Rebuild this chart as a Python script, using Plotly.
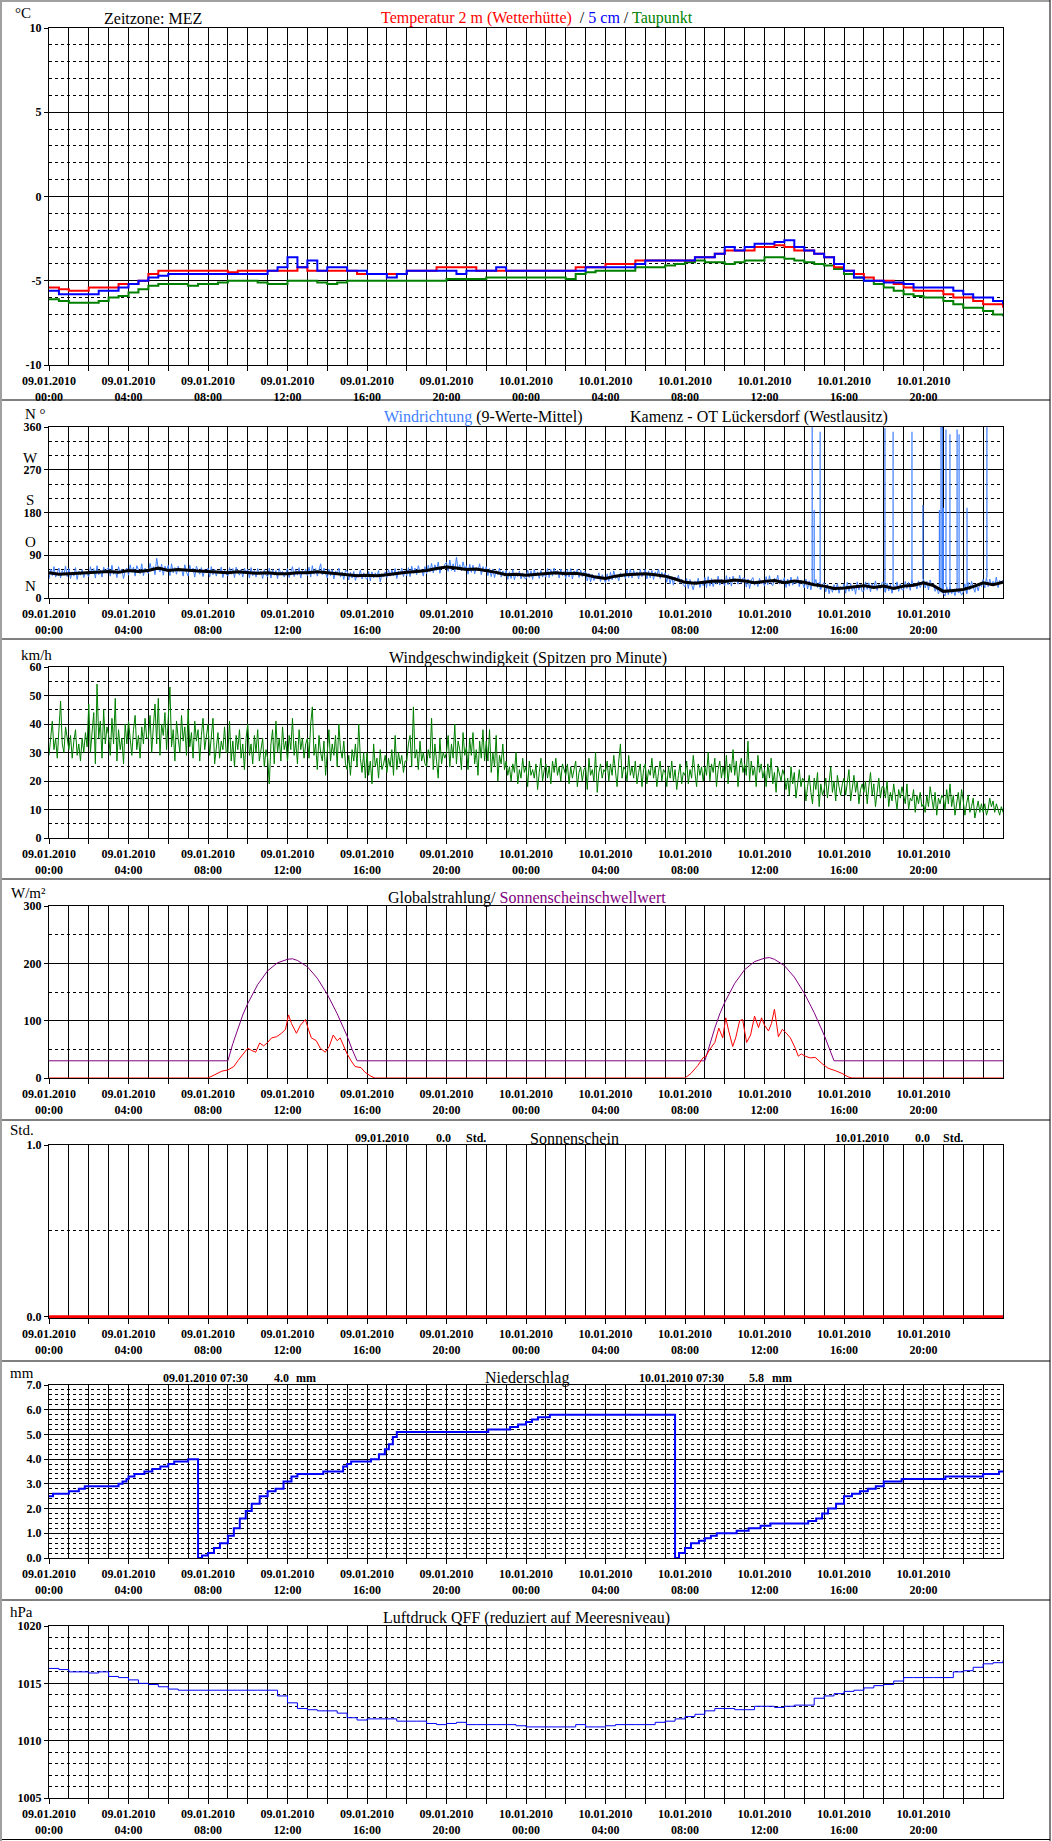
import plotly.graph_objects as go

W, H = 1052, 1841

# ---------------- DATA ----------------
tick_dates = ["09.01.2010"] * 6 + ["10.01.2010"] * 6
tick_times = ["00:00", "04:00", "08:00", "12:00", "16:00", "20:00"] * 2

# half-hourly temperatures, hours 0..48
temp_2m = [
    -5.4, -5.5, -5.6, -5.6, -5.4, -5.4, -5.4, -5.2,
    -5.2, -5.0, -4.6, -4.4, -4.4, -4.4, -4.4, -4.4,
    -4.4, -4.4, -4.5, -4.4, -4.4, -4.4, -4.4, -4.4,
    -4.4, -4.2, -4.4, -4.4, -4.4, -4.4, -4.4, -4.6,
    -4.6, -4.6, -4.6, -4.6, -4.4, -4.4, -4.4, -4.2,
    -4.2, -4.2, -4.2, -4.4, -4.4, -4.4, -4.4, -4.4,
    -4.4, -4.4, -4.4, -4.4, -4.4, -4.2, -4.2, -4.2,
    -4.0, -4.0, -4.0, -3.8, -3.8, -3.8, -3.8, -3.8,
    -3.8, -3.6, -3.6, -3.4, -3.2, -3.2, -3.2, -3.0,
    -3.0, -2.9, -3.0, -3.2, -3.2, -3.4, -3.6, -4.2,
    -4.4, -4.6, -4.8, -5.0, -5.0, -5.2, -5.4, -5.6,
    -5.6, -5.6, -5.8, -6.0, -6.0, -6.2, -6.4, -6.4,
    -6.6]
temp_5cm = [
    -5.6, -5.8, -5.8, -5.8, -5.8, -5.6, -5.6, -5.4,
    -5.2, -5.0, -4.8, -4.7, -4.6, -4.6, -4.6, -4.6,
    -4.6, -4.6, -4.6, -4.6, -4.6, -4.6, -4.4, -4.2,
    -3.6, -4.2, -3.8, -4.4, -4.2, -4.2, -4.4, -4.4,
    -4.6, -4.6, -4.8, -4.6, -4.4, -4.4, -4.4, -4.4,
    -4.4, -4.6, -4.4, -4.4, -4.4, -4.2, -4.4, -4.4,
    -4.4, -4.4, -4.4, -4.4, -4.4, -4.4, -4.2, -4.2,
    -4.2, -4.2, -4.2, -4.0, -3.8, -3.8, -3.8, -3.8,
    -3.8, -3.6, -3.6, -3.4, -3.0, -3.2, -3.0, -2.8,
    -2.8, -2.7, -2.6, -3.0, -3.2, -3.4, -3.6, -4.0,
    -4.4, -4.8, -5.0, -5.0, -5.1, -5.1, -5.2, -5.4,
    -5.4, -5.4, -5.4, -5.6, -5.8, -6.0, -6.0, -6.2,
    -6.4]
dewpoint = [
    -6.1, -6.2, -6.3, -6.3, -6.3, -6.2, -6.0, -5.9,
    -5.7, -5.5, -5.3, -5.2, -5.2, -5.2, -5.3, -5.2,
    -5.2, -5.1, -5.0, -5.0, -5.0, -5.1, -5.2, -5.2,
    -5.0, -5.0, -5.0, -5.1, -5.2, -5.1, -5.0, -5.0,
    -5.0, -5.0, -5.0, -5.0, -5.0, -5.0, -5.0, -5.0,
    -4.9, -4.9, -4.9, -4.9, -4.8, -4.8, -4.8, -4.8,
    -4.8, -4.8, -4.8, -4.8, -4.9, -4.6, -4.5, -4.4,
    -4.4, -4.4, -4.4, -4.2, -4.2, -4.2, -4.1, -4.0,
    -3.9, -3.8, -3.9, -3.9, -4.0, -3.9, -3.8, -3.8,
    -3.6, -3.6, -3.7, -3.8, -3.9, -4.0, -4.1, -4.3,
    -4.6, -4.8, -5.0, -5.2, -5.4, -5.6, -5.8, -5.9,
    -6.0, -6.0, -6.2, -6.4, -6.6, -6.6, -6.8, -7.0,
    -7.1]

# wind direction, 5-minute values (one row per hour)
wind_dir_raw = [
    40, 61, 47, 66, 44, 56, 63, 42, 58, 49, 67, 45,
    62, 41, 55, 46, 64, 39, 57, 48, 60, 43, 54, 50,
    45, 66, 51, 62, 42, 68, 49, 59, 44, 65, 53, 61,
    64, 46, 69, 50, 58, 43, 66, 52, 61, 41, 57, 63,
    48, 70, 54, 65, 46, 68, 59, 51, 72, 47, 63, 55,
    52, 73, 57, 66, 49, 84, 62, 55, 71, 48, 67, 58,
    69, 47, 72, 53, 64, 50, 67, 56, 61, 46, 70, 54,
    46, 69, 55, 63, 44, 67, 58, 50, 64, 45, 60, 53,
    63, 44, 66, 49, 61, 46, 58, 52, 65, 43, 59, 50,
    46, 64, 50, 62, 43, 65, 55, 48, 60, 44, 63, 52,
    61, 42, 64, 47, 58, 44, 62, 50, 57, 41, 60, 48,
    45, 63, 42, 60, 48, 58, 41, 62, 50, 56, 44, 55,
    62, 43, 57, 66, 45, 60, 48, 64, 42, 58, 51, 61,
    47, 65, 44, 68, 50, 62, 46, 59, 72, 49, 63, 52,
    42, 61, 47, 60, 40, 57, 51, 63, 44, 55, 39, 58,
    57, 38, 54, 42, 56, 37, 51, 45, 59, 40, 53, 43,
    39, 56, 36, 55, 42, 53, 46, 58, 34, 51, 44, 55,
    43, 60, 46, 59, 47, 62, 41, 57, 50, 63, 45, 58,
    47, 64, 45, 67, 52, 63, 49, 68, 54, 61, 46, 66,
    51, 69, 55, 73, 53, 70, 58, 76, 52, 67, 62, 71,
    75, 56, 80, 58, 72, 55, 86, 60, 70, 57, 76, 61,
    68, 50, 71, 54, 69, 51, 64, 57, 72, 49, 66, 55,
    66, 47, 62, 45, 61, 43, 58, 49, 63, 44, 57, 46,
    58, 39, 55, 41, 60, 38, 52, 45, 57, 40, 53, 42,
    40, 59, 43, 57, 39, 60, 46, 55, 41, 58, 44, 52,
    44, 62, 43, 60, 46, 63, 49, 58, 42, 61, 47, 56,
    41, 60, 44, 62, 40, 57, 48, 61, 43, 59, 45, 55,
    55, 36, 52, 34, 50, 37, 47, 40, 53, 35, 49, 42,
    32, 51, 35, 54, 38, 57, 41, 48, 36, 53, 44, 50,
    41, 59, 43, 61, 42, 58, 47, 55, 40, 60, 45, 53,
    60, 40, 57, 42, 58, 39, 55, 46, 61, 41, 54, 44,
    53, 33, 49, 30, 45, 27, 44, 36, 48, 31, 40, 28,
    23, 41, 20, 39, 25, 17, 36, 28, 42, 22, 34, 26,
    43, 22, 45, 25, 41, 24, 38, 29, 46, 27, 40, 31,
    26, 47, 28, 44, 25, 46, 33, 40, 29, 48, 31, 42,
    42, 23, 40, 20, 38, 43, 27, 36, 24, 41, 30, 35,
    25, 45, 28, 47, 30, 26, 42, 33, 48, 29, 39, 34,
    43, 22, 40, 25, 44, 27, 37, 30, 45, 24, 38, 31,
    21, 40, 19, 36, 17, 34, 27, 39, 22, 33, 18, 29,
    32, 13, 29, 9, 25, 12, 28, 16, 31, 10, 24, 18,
    30, 10, 33, 14, 31, 15, 26, 8, 34, 17, 28, 13,
    15, 34, 18, 32, 13, 30, 22, 36, 16, 29, 20, 33,
    33, 12, 31, 15, 29, 10, 27, 18, 34, 14, 30, 17,
    17, 35, 20, 33, 16, 38, 24, 31, 19, 36, 22, 30,
    40, 21, 35, 17, 38, 25, 30, 14, 23, 9, 19, 12,
    10, 4, 24, 7, 25, 9, 18, 5, 21, 11, 15, 6,
    13, 30, 9, 33, 17, 35, 22, 12, 28, 15, 31, 24,
    39, 21, 43, 24, 40, 26, 35, 28, 44, 22, 37, 33,
    38]
# 9-value mean, half-hourly
wind_dir_mean = [
    53, 50, 51, 52, 54, 55, 56, 54,
    58, 56, 58, 63, 58, 60, 58, 57,
    56, 54, 53, 55, 54, 52, 53, 51,
    51, 53, 53, 55, 53, 51, 49, 47,
    48, 47, 49, 52, 54, 56, 58, 62,
    65, 63, 60, 61, 58, 54, 49, 50,
    48, 50, 51, 53, 51, 52, 49, 44,
    41, 46, 49, 50, 51, 49, 46, 40,
    33, 31, 33, 36, 35, 38, 36, 32,
    35, 37, 32, 36, 33, 28, 25, 20,
    21, 24, 26, 22, 25, 20, 25, 27,
    32, 26, 14, 16, 18, 24, 32, 28,
    33]
# direction jumps through north (hour, peak degrees)
spike_hours = [38.4, 38.5, 38.8, 42.06, 42.47, 43.42, 43.97, 44.8, 44.88, 44.95,
               45.0, 45.13, 45.33, 45.69, 45.79, 46.19, 47.19]
spike_peaks = [360, 185, 350, 358, 350, 350, 196, 185, 360, 360,
               190, 355, 345, 355, 345, 190, 360]

# wind speed peaks, 5-minute values (one row per hour)
wind_speed = [
    29, 36, 41, 31, 35, 28, 38, 48, 33, 30, 39, 34,
    31, 36, 28, 34, 38, 29, 33, 27, 35, 30, 37, 32,
    47, 30, 38, 44, 26, 54, 35, 41, 28, 45, 33, 39,
    36, 29, 42, 33, 49, 27, 38, 31, 35, 26, 40, 33,
    41, 34, 29, 38, 43, 31, 36, 28, 39, 33, 42, 35,
    35, 43, 30, 39, 47, 33, 49, 29, 40, 36, 44, 31,
    44, 53, 32, 38, 27, 41, 35, 30, 43, 34, 39, 29,
    45, 32, 37, 28, 41, 34, 38, 27, 36, 42, 31, 35,
    40, 29, 35, 42, 26, 33, 37, 28, 34, 31, 39, 30,
    30, 41, 27, 34, 25, 36, 31, 38, 28, 33, 24, 35,
    40, 29, 33, 26, 36, 30, 38, 27, 32, 35, 25, 31,
    28, 19, 33, 38, 26, 41, 30, 35, 27, 39, 31, 34,
    27, 36, 31, 42, 29, 34, 26, 38, 31, 35, 28, 33,
    35, 28, 40, 46, 29, 33, 24, 36, 30, 27, 34, 22,
    30, 38, 27, 33, 29, 36, 25, 40, 31, 28, 34, 26,
    24, 29, 22, 31, 27, 33, 25, 40, 28, 23, 30, 21,
    30, 22, 27, 19, 33, 25, 28, 21, 31, 24, 26, 29,
    23, 28, 25, 31, 22, 36, 24, 30, 26, 29, 23, 27,
    27, 33, 36, 25, 46, 28, 31, 24, 34, 27, 30, 26,
    25, 31, 28, 42, 24, 33, 27, 21, 35, 26, 30, 28,
    30, 36, 25, 33, 28, 40, 26, 34, 31, 24, 37, 29,
    32, 24, 35, 29, 37, 26, 31, 22, 34, 28, 38, 27,
    34, 27, 38, 23, 30, 25, 36, 20, 29, 26, 33, 24,
    27, 22, 25, 20, 26, 23, 30, 19, 24, 21, 28, 23,
    25, 18, 27, 22, 24, 21, 26, 17, 23, 28, 20, 24,
    26, 21, 25, 19, 27, 23, 28, 22, 25, 20, 26, 24,
    22, 26, 19, 25, 21, 24, 27, 18, 23, 25, 20, 24,
    25, 17, 28, 22, 24, 20, 30, 16, 23, 26, 21, 24,
    23, 27, 20, 26, 22, 29, 24, 18, 27, 33, 21, 25,
    24, 20, 29, 22, 25, 21, 27, 19, 23, 26, 18, 24,
    26, 19, 24, 22, 28, 21, 25, 18, 23, 27, 20, 24,
    23, 18, 25, 21, 27, 20, 24, 17, 22, 26, 19, 23,
    22, 27, 19, 24, 21, 29, 23, 18, 26, 22, 25, 20,
    25, 22, 30, 20, 26, 23, 28, 18, 24, 27, 21, 25,
    21, 29, 19, 26, 23, 31, 22, 27, 18, 25, 28, 23,
    26, 22, 34, 20, 27, 22, 25, 18, 29, 23, 26, 21,
    24, 18, 26, 21, 28, 19, 23, 16, 25, 22, 20, 24,
    22, 17, 21, 15, 25, 19, 23, 14, 20, 24, 18, 21,
    20, 13, 18, 22, 16, 12, 21, 17, 23, 11, 19, 15,
    17, 21, 14, 19, 25, 16, 20, 13, 22, 18, 15, 19,
    21, 15, 19, 24, 13, 18, 22, 16, 20, 12, 17, 19,
    16, 20, 12, 18, 23, 15, 19, 11, 17, 21, 14, 18,
    18, 14, 20, 11, 16, 13, 19, 15, 10, 17, 14, 18,
    15, 12, 19, 10, 14, 13, 17, 9, 15, 12, 16, 11,
    12, 9, 15, 11, 18, 13, 10, 16, 8, 14, 12, 15,
    14, 10, 17, 12, 19, 11, 15, 8, 13, 16, 10, 17,
    13, 8, 12, 15, 9, 11, 14, 7, 10, 13, 9, 12,
    9, 12, 8, 10, 14, 11, 13, 9, 12, 10, 8, 11,
    9]

# global radiation (hour, W/m²)
radiation = [
    (0.0, 0), (8.0, 0), (8.3, 5), (8.7, 12), (9.0, 14), (9.3, 20), (9.5, 30), (9.75, 42),
    (10.0, 52), (10.2, 48), (10.4, 45), (10.6, 61), (10.8, 56), (11.0, 62), (11.2, 70),
    (11.45, 72), (11.7, 78), (11.9, 85), (12.05, 110), (12.2, 95), (12.45, 78), (12.65, 92),
    (12.9, 102), (13.05, 85), (13.2, 70), (13.45, 65), (13.65, 52), (13.9, 45), (14.1, 55),
    (14.3, 75), (14.5, 65), (14.65, 70), (14.8, 58), (15.0, 42), (15.2, 30), (15.4, 20),
    (15.7, 18), (15.9, 10), (16.2, 3), (16.4, 0), (32.0, 0), (32.3, 8), (32.65, 22),
    (32.9, 35), (33.05, 38), (33.25, 50), (33.5, 62), (33.7, 87), (33.9, 70), (34.05, 105),
    (34.2, 82), (34.4, 55), (34.55, 70), (34.75, 100), (34.9, 102), (35.1, 62), (35.3, 75),
    (35.5, 108), (35.7, 88), (35.85, 105), (36.0, 92), (36.2, 82), (36.35, 95), (36.5, 120),
    (36.7, 72), (36.9, 85), (37.1, 78), (37.3, 70), (37.55, 52), (37.7, 38), (37.85, 42),
    (38.05, 38), (38.3, 35), (38.55, 36), (38.9, 25), (39.2, 17), (39.55, 13), (39.9, 8),
    (40.2, 2), (40.4, 0), (48.0, 0)]
# sunshine threshold (hour, W/m²)
sun_threshold = [
    (0.0, 30), (9.0, 30), (9.25, 60), (9.5, 85), (9.75, 110), (10.0, 130), (10.5, 163),
    (11.0, 187), (11.5, 201), (12.0, 207), (12.25, 208), (12.5, 205), (13.0, 194),
    (13.5, 174), (14.0, 146), (14.5, 112), (15.0, 73), (15.25, 50), (15.5, 30),
    (33.0, 30), (33.25, 60), (33.5, 87), (33.75, 112), (34.0, 132), (34.5, 165),
    (35.0, 189), (35.5, 203), (36.0, 209), (36.25, 210), (36.5, 207), (37.0, 196),
    (37.5, 176), (38.0, 148), (38.5, 114), (39.0, 75), (39.25, 52), (39.5, 30), (48.0, 30)]

sunshine_hours = [0.0] * 49  # hourly

# precipitation sum steps (hour, mm)
precip = [
    (0.0, 2.5), (0.2, 2.6), (1.0, 2.7), (1.5, 2.8), (1.8, 2.9), (3.5, 3.0), (3.7, 3.1),
    (3.9, 3.2), (4.0, 3.3), (4.3, 3.4), (4.8, 3.5), (5.2, 3.6), (5.6, 3.7), (6.0, 3.8),
    (6.3, 3.9), (7.0, 4.0), (7.5, 0.0), (7.7, 0.1), (8.0, 0.2), (8.3, 0.4), (8.6, 0.6),
    (9.0, 0.9), (9.3, 1.2), (9.6, 1.6), (9.9, 1.9), (10.2, 2.2), (10.6, 2.5), (11.0, 2.7),
    (11.4, 2.8), (11.8, 3.1), (12.2, 3.3), (12.5, 3.4), (13.8, 3.5), (14.8, 3.7),
    (15.0, 3.8), (15.2, 3.9), (16.2, 4.0), (16.6, 4.2), (16.9, 4.4), (17.1, 4.6),
    (17.3, 4.9), (17.5, 5.1), (22.1, 5.2), (23.2, 5.3), (23.6, 5.4), (24.0, 5.5),
    (24.3, 5.6), (24.6, 5.7), (25.2, 5.8), (31.5, 0.0), (31.7, 0.2), (32.0, 0.4),
    (32.3, 0.6), (32.7, 0.7), (33.0, 0.8), (33.3, 0.9), (33.6, 1.0), (34.6, 1.1),
    (35.2, 1.2), (35.8, 1.3), (36.3, 1.4), (38.2, 1.5), (38.6, 1.6), (38.9, 1.8),
    (39.2, 2.0), (39.6, 2.2), (40.0, 2.5), (40.4, 2.6), (40.8, 2.7), (41.2, 2.8),
    (41.6, 2.9), (42.0, 3.1), (42.9, 3.2), (45.1, 3.3), (47.0, 3.4), (47.8, 3.5), (48.0, 3.5)]

# pressure QFF, half-hourly
pressure = [
    1016.3, 1016.2, 1016.0, 1016.0, 1015.9, 1016.0, 1015.6, 1015.5,
    1015.3, 1015.0, 1014.9, 1014.7, 1014.5, 1014.4, 1014.4, 1014.4,
    1014.4, 1014.4, 1014.4, 1014.4, 1014.4, 1014.4, 1014.4, 1013.9,
    1013.3, 1012.8, 1012.7, 1012.6, 1012.6, 1012.4, 1012.0, 1011.8,
    1011.9, 1011.9, 1011.9, 1011.7, 1011.7, 1011.7, 1011.5, 1011.4,
    1011.5, 1011.6, 1011.4, 1011.4, 1011.4, 1011.4, 1011.4, 1011.3,
    1011.2, 1011.2, 1011.2, 1011.2, 1011.2, 1011.4, 1011.2, 1011.2,
    1011.3, 1011.4, 1011.4, 1011.4, 1011.4, 1011.6, 1011.7, 1011.9,
    1012.1, 1012.3, 1012.6, 1012.8, 1012.8, 1012.7, 1012.7, 1013.0,
    1013.0, 1012.9, 1013.0, 1013.1, 1013.1, 1013.7, 1013.9, 1014.1,
    1014.3, 1014.4, 1014.6, 1014.8, 1014.9, 1015.2, 1015.5, 1015.5,
    1015.5, 1015.5, 1015.5, 1016.0, 1016.1, 1016.4, 1016.7, 1016.8,
    1017.0]

# ---------------- FIGURE ----------------
half_h = [i * 0.5 for i in range(len(temp_2m))]
five_min = [i / 12 for i in range(len(wind_speed))]
five_min_dir = [i / 12 for i in range(len(wind_dir_raw))]
hourly = list(range(len(sunshine_hours)))

FONT = "Liberation Serif"
fig = go.Figure()

panels = [(28, 365), (427, 598), (667, 838), (906, 1078), (1145, 1318), (1385, 1558), (1626, 1798)]


def ax(i):
    return "" if i == 0 else str(i + 1)


def add(i, **kw):
    fig.add_trace(go.Scatter(xaxis="x" + ax(i), yaxis="y" + ax(i), mode="lines",
                             showlegend=False, hoverinfo="skip", **kw))


# panel 1
add(0, x=half_h, y=dewpoint, line=dict(color="#008000", width=2, shape="hv"))
add(0, x=half_h, y=temp_2m, line=dict(color="#FF0000", width=2, shape="hv"))
add(0, x=half_h, y=temp_5cm, line=dict(color="#0000FF", width=2, shape="hv"))

# panel 2
add(1, x=five_min_dir, y=wind_dir_raw, line=dict(color="#3F7FFF", width=1))
sx, sy = [], []
for t, v in zip(spike_hours, spike_peaks):
    base = wind_dir_raw[min(range(len(five_min_dir)), key=lambda k: abs(five_min_dir[k] - t))]
    sx += [t, t, None]
    sy += [base, v, None]
add(1, x=sx, y=sy, line=dict(color="#3F7FFF", width=1.2))
add(1, x=half_h, y=wind_dir_mean, line=dict(color="black", width=3))

# panel 3
add(2, x=five_min, y=wind_speed, line=dict(color="#008000", width=1))

# panel 4
add(3, x=[p[0] for p in sun_threshold], y=[p[1] for p in sun_threshold],
    line=dict(color="#800080", width=1))
add(3, x=[p[0] for p in radiation], y=[p[1] for p in radiation],
    line=dict(color="#FF0000", width=1))

# panel 5
add(4, x=hourly, y=sunshine_hours, line=dict(color="#FF0000", width=3))

# panel 6
add(5, x=[p[0] for p in precip], y=[p[1] for p in precip],
    line=dict(color="#0000FF", width=2, shape="hv"))

# panel 7
add(6, x=half_h, y=pressure, line=dict(color="#0000FF", width=1, shape="hv"))

# axes
xtv = list(range(0, 48, 2))
xtt = [(tick_dates[h // 4] + "<br>" + tick_times[h // 4]) if h % 4 == 0 else "" for h in xtv]

yspecs = [
    dict(range=[-10, 10], tickvals=[-10, -5, 0, 5, 10], ticktext=["-10", "-5", "0", "5", "10"], minor=1),
    dict(range=[0, 360], tickvals=[0, 90, 180, 270, 360], ticktext=["0", "90", "180", "270", "360"], minor=30),
    dict(range=[0, 60], tickvals=[0, 10, 20, 30, 40, 50, 60], ticktext=["0", "10", "20", "30", "40", "50", "60"], minor=5),
    dict(range=[0, 300], tickvals=[0, 100, 200, 300], ticktext=["0", "100", "200", "300"], minor=50),
    dict(range=[-0.008, 1], tickvals=[0, 1], ticktext=["0.0", "1.0"], minor=0.5),
    dict(range=[0, 7], tickvals=[0, 1, 2, 3, 4, 5, 6, 7],
         ticktext=["0.0", "1.0", "2.0", "3.0", "4.0", "5.0", "6.0", "7.0"], minor=0.2),
    dict(range=[1005, 1020], tickvals=[1005, 1010, 1015, 1020], ticktext=["1005", "1010", "1015", "1020"], minor=1),
]

tickfont = dict(family=FONT, size=12, color="black", weight="bold")
layout = dict(width=W, height=H, margin=dict(l=0, r=0, t=0, b=0, pad=0), autosize=False,
              template="none", paper_bgcolor="white", plot_bgcolor="white", showlegend=False)
for i, (top, bot) in enumerate(panels):
    n = ax(i)
    spec = yspecs[i]
    layout["xaxis" + n] = dict(
        domain=[49 / W, 1003 / W], range=[0, 48], anchor="y" + n, automargin=False,
        tickmode="array", tickvals=xtv, ticktext=xtt, tickangle=0,
        ticks="outside", ticklen=5, tickcolor="black", tickwidth=1,
        showgrid=True, gridcolor="black", gridwidth=1,
        minor=dict(tickmode="linear", tick0=0, dtick=1, showgrid=True,
                   gridcolor="black", gridwidth=1, ticks=""),
        showline=True, linecolor="black", linewidth=1, mirror=True,
        zeroline=False, tickfont=tickfont, fixedrange=True)
    layout["yaxis" + n] = dict(
        domain=[1 - bot / H, 1 - top / H], range=spec["range"], anchor="x" + n, automargin=False,
        tickmode="array", tickvals=spec["tickvals"], ticktext=spec["ticktext"],
        ticks="outside", ticklen=4, tickcolor="black", tickwidth=1,
        showgrid=True, gridcolor="black", gridwidth=1,
        minor=dict(tickmode="linear", tick0=spec["range"][0] if i != 4 else 0, dtick=spec["minor"],
                   showgrid=True, gridcolor="black", gridwidth=1, griddash="dot", ticks=""),
        showline=True, linecolor="black", linewidth=1, mirror=True,
        zeroline=False, tickfont=tickfont, fixedrange=True)

fig.update_layout(**layout)


def note(text, xpx, ypx, size=16, color="black", bold=False, anchor="center"):
    fig.add_annotation(text=text, x=xpx / W, y=1 - ypx / H, xref="paper", yref="paper",
                       xanchor=anchor, yanchor="middle", showarrow=False,
                       font=dict(family=FONT, size=size, color=color,
                                 weight="bold" if bold else "normal"))


# panel 1 texts
note("°C", 23, 13, size=15)
note("Zeitzone: MEZ", 153, 18)
note('<span style="color:#FF0000">Temperatur 2 m (Wetterhütte)</span>&nbsp; / '
     '<span style="color:#0000FF">5 cm</span> / <span style="color:#008000">Taupunkt</span>', 537, 18)
# panel 2
note("N °", 35, 414, size=15)
for lbl, val in zip(["W", "S", "O", "N"], [294, 207, 118, 26]):
    note(lbl, 30, 598 - val * 171 / 360, size=15)
note('<span style="color:#3F7FFF">Windrichtung</span> (9-Werte-Mittel)', 483, 417)
note("Kamenz - OT Lückersdorf (Westlausitz)", 759, 417)
# panel 3
note("km/h", 36, 655, size=15)
note("Windgeschwindigkeit (Spitzen pro Minute)", 528, 658)
# panel 4
note("W/m²", 28, 893, size=15)
note('Globalstrahlung/ <span style="color:#800080">Sonnenscheinschwellwert</span>', 527, 898)
# panel 5
note("Std.", 22, 1130, size=15)
note("09.01.2010", 382, 1138, size=12, bold=True)
note("0.0", 443, 1138, size=12, bold=True)
note("Std.", 476, 1138, size=12, bold=True)
note("Sonnenschein", 574, 1138)
note("10.01.2010", 862, 1138, size=12, bold=True)
note("0.0", 922, 1138, size=12, bold=True)
note("Std.", 953, 1138, size=12, bold=True)
# panel 6
note("mm", 22, 1373, size=15)
note("09.01.2010 07:30", 205, 1378, size=12, bold=True)
note("4.0", 281, 1378, size=12, bold=True)
note("mm", 306, 1378, size=12, bold=True)
note("Niederschlag", 527, 1378)
note("10.01.2010 07:30", 681, 1378, size=12, bold=True)
note("5.8", 756, 1378, size=12, bold=True)
note("mm", 782, 1378, size=12, bold=True)
# panel 7
note("hPa", 21, 1612, size=15)
note("Luftdruck QFF (reduziert auf Meeresniveau)", 526, 1618)

# frame and separators
shapes = []
for ysep in [400, 639, 879, 1120, 1361, 1600, 1839.5]:
    shapes.append(dict(type="line", xref="paper", yref="paper", x0=0, x1=1050 / W,
                       y0=1 - ysep / H, y1=1 - ysep / H, line=dict(color="black", width=1)))
shapes.append(dict(type="line", xref="paper", yref="paper", x0=0, x1=1050 / W,
                   y0=1 - 1 / H, y1=1 - 1 / H, line=dict(color="#A0A0A0", width=2)))
shapes.append(dict(type="line", xref="paper", yref="paper", x0=1 / W, x1=1 / W,
                   y0=0, y1=1, line=dict(color="#A0A0A0", width=2)))
shapes.append(dict(type="line", xref="paper", yref="paper", x0=1050 / W, x1=1050 / W,
                   y0=0, y1=1, line=dict(color="black", width=1)))
fig.update_layout(shapes=shapes)

fig.write_html("out.html", config={"displayModeBar": False},
               post_script="document.body.style.margin='0px';document.body.style.padding='0px';")
